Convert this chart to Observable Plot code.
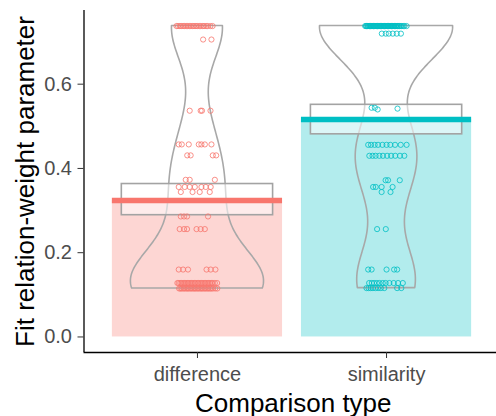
<!DOCTYPE html>
<html><head><meta charset="utf-8">
<script src="https://cdn.jsdelivr.net/npm/d3@7"></script>
<script src="https://cdn.jsdelivr.net/npm/@observablehq/plot@0.6"></script>
<style>body{margin:0;background:#fff}</style>
</head><body><div id="chart"></div>
<script>
const categories = ["difference", "similarity"];
const colors = ["#F8766D", "#00BFC4"];
const means = [0.324, 0.516];
const ciLow = [0.289, 0.481];
const ciHigh = [0.363, 0.551];
const yTicks = [0, 0.2, 0.4, 0.6];
const xTitle = "Comparison type";
const yTitle = "Fit relation-weight parameter";

// observed value levels and the horizontal jitter (category units) of each point at that level
const differenceLevels = [0.738, 0.706, 0.537, 0.457, 0.431, 0.373, 0.356, 0.344, 0.286, 0.256, 0.160, 0.128, 0.115];
const differenceJitter = [
  [-0.111,-0.103,-0.093,-0.086,-0.076,-0.069,-0.059,-0.052,-0.042,-0.035,-0.025,-0.018,-0.008,-0.001,0.010,0.017,0.028,0.035,0.046,0.054,0.068,0.080],
  [0.030, 0.074],
  [-0.041, 0.017, 0.024, 0.069],
  [-0.099, -0.083, -0.046, 0.007, 0.021, 0.039, 0.074],
  [-0.054, -0.036, 0.081, 0.099],
  [-0.062, -0.041, 0.092],
  [-0.099, -0.067, -0.041, -0.014, 0.021, 0.044, 0.070],
  [-0.088, -0.026, 0.012, 0.065],
  [-0.088, -0.071, -0.055, 0.056],
  [-0.094, -0.071, -0.055, -0.005, 0.017, 0.039],
  [-0.099, -0.076, -0.050, 0.048, 0.070, 0.095],
  [-0.106,-0.099,-0.091,-0.084,-0.076,-0.069,-0.061,-0.054,-0.046,-0.039,-0.031,-0.024,-0.016,-0.009,-0.001,0.006,0.014,0.021,0.029,0.036,0.044,0.051,0.059,0.066,0.074,0.081,0.092,0.104],
  [-0.097,-0.090,-0.083,-0.075,-0.068,-0.060,-0.053,-0.046,-0.038,-0.031,-0.023,-0.016,-0.009,-0.001,0.006,0.014,0.021,0.028,0.036,0.043,0.051,0.058,0.066,0.073,0.082,0.094,0.105]
];
const similarityLevels = [0.738, 0.720, 0.544, 0.540, 0.542, 0.456, 0.430, 0.372, 0.356, 0.344, 0.256, 0.160, 0.128, 0.116];
const similarityJitter = [
  [-0.113,-0.108,-0.106,-0.100,-0.098,-0.092,-0.091,-0.085,-0.083,-0.078,-0.076,-0.070,-0.069,-0.063,-0.061,-0.056,-0.054,-0.048,-0.047,-0.041,-0.039,-0.034,-0.032,-0.026,-0.025,-0.019,-0.017,-0.012,-0.010,-0.004,-0.003,0.003,0.005,0.010,0.012,0.018,0.019,0.025,0.027,0.032,0.034,0.040,0.042,0.048,0.050,0.056,0.059,0.065,0.068,0.076,0.080,0.089,0.095,0.106],
  [-0.025, -0.004, 0.012, 0.033, 0.054, 0.076],
  [-0.079, -0.062],
  [-0.047],
  [0.058],
  [-0.097, -0.082, -0.063, -0.045, -0.022, 0.000, 0.020, 0.045, 0.075, 0.106],
  [-0.091, -0.074, -0.058, -0.038, -0.019, 0.003, 0.024, 0.046, 0.071, 0.094],
  [-0.005, 0.008, 0.070],
  [-0.071, -0.057, -0.026, 0.032],
  [-0.026, 0.021],
  [-0.050, -0.004],
  [-0.097, -0.079, 0.000, 0.040, 0.056],
  [-0.092, -0.078, -0.066, -0.051, -0.037, -0.020, -0.005, 0.015, 0.038, 0.061, 0.086],
  [-0.106, -0.095, -0.084, -0.072, -0.059, -0.045, -0.030, -0.012, 0.056, 0.078]
];

const halfBar = 0.45, halfBox = 0.4, halfViolin = 0.352;

const groups = categories.map((c, i) => ({cat: c, pos: i + 1, color: colors[i], mean: means[i], lo: ciLow[i], hi: ciHigh[i]}));
const sets = [[differenceLevels, differenceJitter], [similarityLevels, similarityJitter]];
const points = [];
sets.forEach(([levels, jit], i) => levels.forEach((v, k) => jit[k].forEach(j =>
  points.push({cat: categories[i], pos: i + 1, x: i + 1 + j, y: v, color: colors[i]}))));

// violin: gaussian KDE (bw.nrd0), trimmed to the data range, scaled to a common max width
function nrd0(v) {
  const s = v.slice().sort(d3.ascending);
  const sd = d3.deviation(s);
  const iqr = d3.quantileSorted(s, 0.75) - d3.quantileSorted(s, 0.25);
  let lo = Math.min(sd, iqr / 1.34);
  if (!(lo > 0)) lo = sd || 1;
  return 0.9 * lo * Math.pow(s.length, -0.2);
}
const violinData = [];
groups.forEach(g => {
  const vals = points.filter(p => p.cat === g.cat).map(p => p.y);
  const bw = nrd0(vals);
  const lo = d3.min(vals), hi = d3.max(vals);
  const n = 256;
  const grid = d3.range(n).map(k => lo + (hi - lo) * k / (n - 1));
  const dens = grid.map(y => d3.sum(vals, v => Math.exp(-0.5 * ((y - v) / bw) ** 2)));
  const m = d3.max(dens);
  grid.forEach((y, k) => violinData.push({cat: g.cat, y, x1: g.pos - halfViolin * dens[k] / m, x2: g.pos + halfViolin * dens[k] / m}));
});

const yMax = d3.max(points.map(p => p.y).concat(ciHigh));
const yPad = 0.05 * yMax;
const yDomain = [-yPad, yMax + yPad];
const xDomain = [0.4, categories.length + 0.6];

const chart = Plot.plot({
  width: 496,
  height: 416,
  marginLeft: 83.5,
  marginRight: 0,
  marginTop: 10,
  marginBottom: 64,
  style: {fontFamily: "'Liberation Sans', Arial, Helvetica, sans-serif", background: "#fff"},
  x: {domain: xDomain, range: [83.5, 499.5], axis: null},
  y: {domain: yDomain, axis: null},
  color: {type: "identity"},
  marks: [
    Plot.rect(groups, {x1: d => d.pos - halfBar, x2: d => d.pos + halfBar, y1: 0, y2: "mean", fill: "color", fillOpacity: 0.3}),
    Plot.areaX(violinData, {y: "y", x1: "x1", x2: "x2", z: "cat", fill: "none", stroke: "#A8A8A8", strokeWidth: 1.6}),
    Plot.rect(groups, {x1: d => d.pos - halfBox, x2: d => d.pos + halfBox, y1: "lo", y2: "hi", fill: "white", fillOpacity: 0.55, stroke: "#A3A3A3", strokeWidth: 1.6}),
    Plot.ruleY(groups, {x1: d => d.pos - halfBar, x2: d => d.pos + halfBar, y: "mean", stroke: "color", strokeWidth: 5.5}),
    Plot.dot(points, {x: "x", y: "y", r: 2.6, stroke: "color", fill: "none", strokeWidth: 1, strokeOpacity: 0.8}),
    Plot.ruleX([xDomain[0]], {stroke: "black", strokeWidth: 1.3}),
    Plot.ruleY([yDomain[0]], {stroke: "black", strokeWidth: 1.3}),
    Plot.axisY(yTicks, {anchor: "left", tickSize: 6, tickPadding: 6, tickFormat: d3.format(".1f"), fontSize: 20, stroke: "#333", fill: "#4D4D4D", label: null}),
    Plot.axisX(categories.map((c, i) => i + 1), {anchor: "bottom", tickSize: 6, tickPadding: 8, tickFormat: i => categories[i - 1], fontSize: 20, stroke: "#333", fill: "#4D4D4D", label: null}),
    Plot.text([yTitle], {text: d => d, frameAnchor: "left", rotate: -90, dx: -50.5, lineAnchor: "bottom", textAnchor: "middle", fontSize: 26, fill: "black"}),
    Plot.text([xTitle], {text: d => d, frameAnchor: "bottom", dx: 3, dy: 59, lineAnchor: "bottom", textAnchor: "middle", fontSize: 26, fill: "black"})
  ]
});
document.getElementById("chart").appendChild(chart);
</script>
</body></html>
